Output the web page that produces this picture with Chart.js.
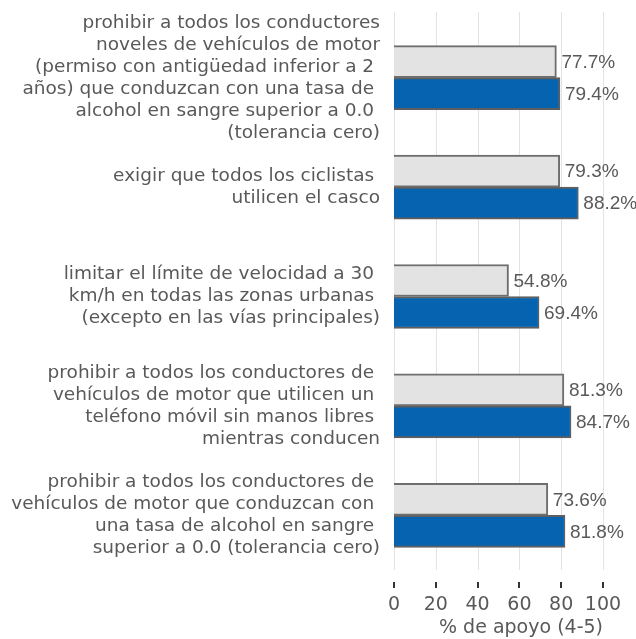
<!DOCTYPE html>
<html>
<head>
<meta charset="utf-8">
<script src="https://cdn.jsdelivr.net/npm/chart.js@4/dist/chart.umd.min.js"></script>
<style>
  html, body { margin: 0; padding: 0; background: #fff; }
  #wrap { width: 636px; height: 639px; }
</style>
</head>
<body>
<div id="wrap"><canvas id="container"></canvas></div>
<script>
const CATEGORIES = [
  ["prohibir a todos los conductores", "noveles de vehículos de motor", "(permiso con antigüedad inferior a 2 ", "años) que conduzcan con una tasa de ", "alcohol en sangre superior a 0.0 ", "(tolerancia cero)"],
  ["exigir que todos los ciclistas ", "utilicen el casco"],
  ["limitar el límite de velocidad a 30 ", "km/h en todas las zonas urbanas ", "(excepto en las vías principales)"],
  ["prohibir a todos los conductores de ", "vehículos de motor que utilicen un ", "teléfono móvil sin manos libres ", "mientras conducen"],
  ["prohibir a todos los conductores de ", "vehículos de motor que conduzcan con ", "una tasa de alcohol en sangre ", "superior a 0.0 (tolerancia cero)"],
];

const SERIES_GREY = [77.7, 79.3, 54.8, 81.3, 73.6];
const SERIES_BLUE = [79.4, 88.2, 69.4, 84.7, 81.8];

const X_TICKS = [0, 20, 40, 60, 80, 100];
const X_TITLE = "% de apoyo (4-5)";

const TEXT_COLOR = "#595959";

// value labels, grid lines and the detached tick marks
const extras = {
  id: "extras",
  beforeDatasetsDraw(chart) {
    const { ctx, chartArea, scales } = chart;
    ctx.save();
    ctx.strokeStyle = "#e3e3e3";
    ctx.lineWidth = 1;
    X_TICKS.forEach((t) => {
      const x = Math.round(scales.x.getPixelForValue(t)) + 0.5;
      ctx.beginPath();
      ctx.moveTo(x, chartArea.top - 11);
      ctx.lineTo(x, chartArea.bottom);
      ctx.stroke();
    });
    ctx.strokeStyle = "#333";
    ctx.lineWidth = 2;
    X_TICKS.forEach((t) => {
      const x = Math.round(scales.x.getPixelForValue(t));
      ctx.beginPath();
      ctx.moveTo(x, chartArea.bottom + 12);
      ctx.lineTo(x, chartArea.bottom + 18);
      ctx.stroke();
    });
    ctx.restore();
  },
  afterDatasetsDraw(chart) {
    const { ctx } = chart;
    ctx.save();
    ctx.fillStyle = TEXT_COLOR;
    ctx.font = "19px 'Liberation Sans', Arial, sans-serif";
    ctx.textAlign = "left";
    ctx.textBaseline = "middle";
    chart.data.datasets.forEach((ds, i) => {
      chart.getDatasetMeta(i).data.forEach((bar, j) => {
        ctx.fillText(ds.data[j].toFixed(1) + "%", bar.x + 5, bar.y + 1);
      });
    });
    ctx.restore();
  },
};

new Chart(document.getElementById("container"), {
  type: "bar",
  data: {
    labels: CATEGORIES,
    datasets: [
      {
        label: "Serie A",
        data: SERIES_GREY,
        backgroundColor: "#e3e3e3",
        borderColor: "#6e6e6e",
        borderWidth: 2,
        barThickness: 32,
      },
      {
        label: "Serie B",
        data: SERIES_BLUE,
        backgroundColor: "#0563b0",
        borderColor: "#5f5f5f",
        borderWidth: 2,
        barThickness: 32,
      },
    ],
  },
  options: {
    indexAxis: "y",
    responsive: true,
    maintainAspectRatio: false,
    animation: false,
    layout: { padding: { top: 23, right: 33, left: 0, bottom: 0 } },
    plugins: {
      legend: { display: false },
      tooltip: { enabled: false },
    },
    scales: {
      x: {
        min: 0,
        max: 100,
        grid: { display: false },
        border: { display: false },
        afterFit: (scale) => {
          scale.height = 69;
          scale.paddingLeft = 0;
          scale.paddingRight = 0;
        },
        afterBuildTicks: (scale) => {
          scale.ticks = X_TICKS.map((v) => ({ value: v }));
        },
        ticks: {
          color: TEXT_COLOR,
          padding: 16,
          maxRotation: 0,
          minRotation: 0,
          autoSkip: false,
          font: { family: "'DejaVu Sans', Verdana, sans-serif", size: 19 },
        },
        title: {
          display: true,
          text: X_TITLE,
          align: "end",
          color: TEXT_COLOR,
          padding: 0,
          font: { family: "'DejaVu Sans', Verdana, sans-serif", size: 19 },
        },
      },
      y: {
        grid: { display: false },
        border: { display: false },
        afterFit: (scale) => {
          scale.width = 394;
          scale.paddingTop = 0;
          scale.paddingBottom = 0;
        },
        ticks: {
          autoSkip: false,
          color: TEXT_COLOR,
          padding: 6,
          font: { family: "'DejaVu Sans', Verdana, sans-serif", size: 18.5, lineHeight: "22px" },
        },
      },
    },
  },
  plugins: [extras],
});
</script>
</body>
</html>
